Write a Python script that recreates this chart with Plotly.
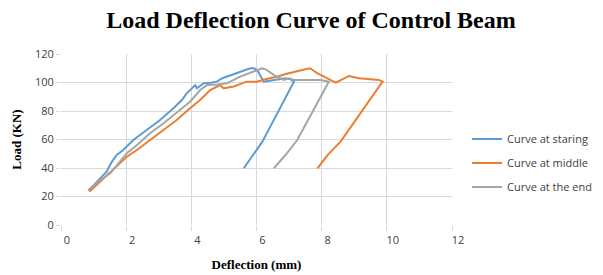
import plotly.graph_objects as go

# Curve at staring (blue)
start_x = [0.84, 1.10, 1.40, 1.55, 1.71, 1.91, 2.22, 2.63, 3.04, 3.45, 3.71, 3.86, 4.12, 4.17, 4.37, 4.60, 4.78, 4.95, 5.09, 5.30, 5.55, 5.81, 5.92, 6.02, 6.22, 6.48, 6.89, 7.05, 7.15, 6.18, 5.71, 5.61]
start_y = [24.1, 30.4, 37.4, 44.0, 49.1, 52.6, 59.6, 66.7, 73.7, 81.9, 87.7, 92.4, 98.2, 95.9, 99.4, 99.8, 100.6, 103.0, 104.1, 105.5, 107.5, 110.0, 110.0, 108.8, 100.6, 101.7, 103.0, 102.2, 100.6, 58.5, 43.3, 39.8]

# Curve at middle (orange)
mid_x = [0.87, 1.20, 1.50, 1.81, 2.02, 2.33, 2.73, 3.14, 3.55, 3.96, 4.27, 4.58, 4.88, 4.99, 5.30, 5.70, 6.01, 6.30, 6.63, 6.90, 7.14, 7.40, 7.65, 7.86, 8.16, 8.37, 8.43, 8.60, 8.84, 9.15, 9.40, 9.56, 9.76, 9.87, 8.58, 8.18, 7.87]
mid_y = [23.4, 30.4, 37.4, 43.3, 47.9, 52.6, 59.6, 66.7, 73.7, 81.9, 87.7, 94.7, 98.2, 95.9, 97.2, 100.6, 100.6, 102.5, 104.1, 106.0, 107.6, 108.8, 110.0, 106.5, 103.0, 100.6, 99.9, 101.8, 104.6, 103.0, 102.6, 102.2, 101.8, 100.6, 58.5, 49.1, 39.8]

# Curve at the end (grey)
end_x = [0.84, 1.15, 1.51, 2.02, 2.35, 2.73, 3.10, 3.45, 3.96, 4.27, 4.48, 4.80, 5.09, 5.50, 5.81, 6.17, 6.30, 6.55, 6.84, 7.00, 7.15, 7.40, 7.97, 8.22, 7.25, 6.89, 6.53]
end_y = [24.5, 30.5, 36.3, 50.3, 56.5, 64.4, 70.5, 77.2, 86.5, 94.7, 98.2, 98.6, 99.4, 104.1, 107.0, 110.0, 109.0, 105.0, 101.8, 103.0, 101.8, 101.8, 101.8, 100.6, 59.6, 49.1, 39.8]

series_names = ["Curve at staring", "Curve at middle", "Curve at the end"]
colors = ["#5b9bd5", "#ed7d31", "#a5a5a5"]

# page body has an 8px default margin, so the figure is 8px smaller each way
W, H = 595, 267

fig = go.Figure()
for i, (name, xs, ys, c) in enumerate(zip(series_names, [start_x, mid_x, end_x],
                                          [start_y, mid_y, end_y], colors)):
    fig.add_trace(go.Scatter(x=xs, y=ys, mode="lines", name=name, legendgroup=f"g{i}",
                             line=dict(color=c, width=2)))

fig.update_layout(
    width=W, height=H,
    paper_bgcolor="white", plot_bgcolor="white",
    margin=dict(l=53, r=151, t=46, b=50, autoexpand=False),
    title=dict(text="<b>Load Deflection Curve of Control Beam</b>",
               x=303 / W, xanchor="center", y=1.0, yanchor="top", pad=dict(t=3),
               font=dict(family="Liberation Serif", size=24, color="#000000")),
    legend=dict(xref="container", yref="container", x=459 / W, y=1 - 155 / H,
                xanchor="left", yanchor="middle",
                font=dict(family="Open Sans", size=11, color="#404040"),
                bgcolor="rgba(0,0,0,0)", tracegroupgap=5),
    showlegend=True,
)
fig.update_xaxes(range=[0, 12], dtick=2, showgrid=True, gridcolor="#d9d9d9", gridwidth=1,
                 zeroline=False, showline=False, ticks="outside", ticklen=5, tickcolor="#d9d9d9",
                 ticklabelshift=6, automargin=False,
                 tickfont=dict(family="Open Sans", size=11, color="#404040"),
                 title=dict(text="<b>Deflection (mm)</b>", standoff=13,
                            font=dict(family="Liberation Serif", size=13, color="#000000")))
fig.update_yaxes(range=[0, 120], dtick=20, showgrid=True, gridcolor="#d9d9d9", gridwidth=1,
                 zeroline=False, showline=False, ticks="outside", ticklen=4, tickcolor="#d9d9d9",
                 automargin=False,
                 tickfont=dict(family="Open Sans", size=11, color="#404040"),
                 title=dict(text="<b>Load (KN)</b>", standoff=10,
                            font=dict(family="Liberation Serif", size=13, color="#000000")))

fig.write_html("out.html")
